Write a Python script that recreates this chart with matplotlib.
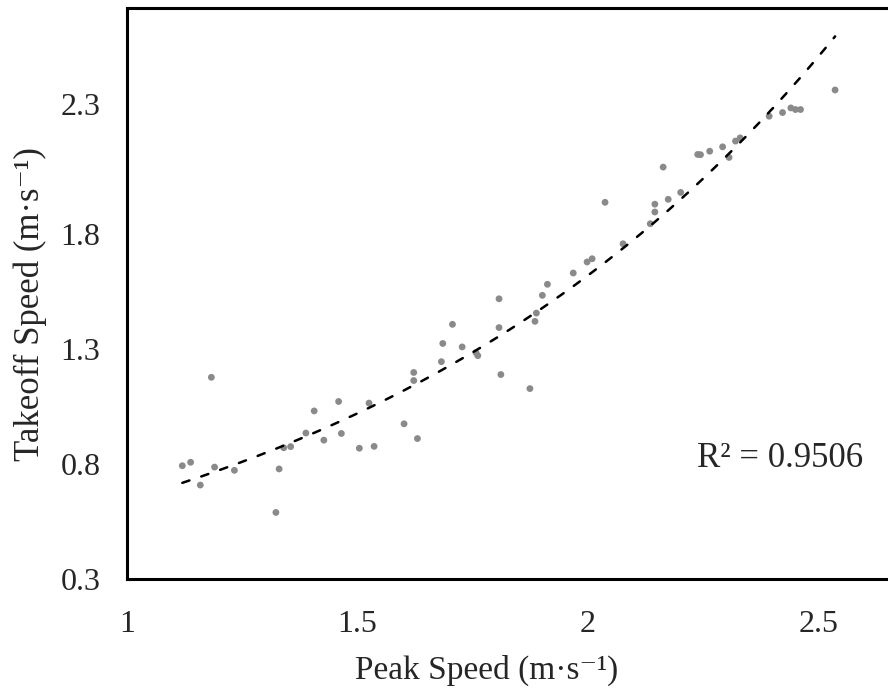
import numpy as np
import matplotlib
matplotlib.use("Agg")
import matplotlib.pyplot as plt
from matplotlib.transforms import ScaledTranslation

# Data
peak_speed = [1.120, 1.138, 1.159, 1.183, 1.190, 1.233, 1.323, 1.330, 1.340, 1.355,
              1.388, 1.406, 1.427, 1.459, 1.465, 1.504, 1.525, 1.536, 1.601, 1.622,
              1.622, 1.630, 1.682, 1.685, 1.706, 1.727, 1.757, 1.761, 1.807, 1.807,
              1.811, 1.874, 1.885, 1.888, 1.901, 1.912, 1.968, 1.998, 2.009, 2.037,
              2.076, 2.135, 2.145, 2.145, 2.163, 2.174, 2.201, 2.238, 2.244, 2.264,
              2.292, 2.306, 2.320, 2.330, 2.393, 2.422, 2.440, 2.450, 2.461, 2.536]
takeoff_speed = [0.792, 0.807, 0.708, 1.176, 0.786, 0.772, 0.589, 0.778, 0.870, 0.875,
                 0.934, 1.030, 0.903, 1.071, 0.932, 0.868, 1.064, 0.876, 0.974, 1.197,
                 1.162, 0.910, 1.244, 1.323, 1.406, 1.308, 1.283, 1.270, 1.517, 1.392,
                 1.188, 1.127, 1.419, 1.455, 1.532, 1.580, 1.629, 1.677, 1.691, 1.936,
                 1.756, 1.843, 1.894, 1.928, 2.089, 1.949, 1.979, 2.144, 2.143, 2.158,
                 2.177, 2.131, 2.202, 2.216, 2.310, 2.326, 2.346, 2.339, 2.339, 2.424]
x_ticks = [1, 1.5, 2, 2.5]
x_tick_labels = ["1", "1.5", "2", "2.5"]
y_ticks = [0.3, 0.8, 1.3, 1.8, 2.3]
y_tick_labels = ["0.3", "0.8", "1.3", "1.8", "2.3"]
x_title = "Peak Speed (m·s⁻¹)"
y_title = "Takeoff Speed (m·s⁻¹)"
r2_text = "R² = 0.9506"

plt.rcParams['font.family'] = ['Liberation Serif', 'DejaVu Serif']

fig = plt.figure(figsize=(8.88, 6.91), dpi=100)
W, H = 888, 691
left_px, right_px, bottom_px, top_px = 127, 1049, 579, 8
ax = fig.add_axes([left_px / W, (H - bottom_px) / H,
                   (right_px - left_px) / W, (bottom_px - top_px) / H])

x = np.array(peak_speed)
y = np.array(takeoff_speed)
ax.scatter(x, y, s=24, color='#8a8a8a', edgecolors='none', zorder=3)

# exponential trendline (least squares on log scale, as spreadsheet trendlines do)
b, ln_a = np.polyfit(x, np.log(y), 1)
xf = np.linspace(x.min(), x.max(), 200)
ax.plot(xf, np.exp(ln_a) * np.exp(b * xf), color='black', lw=1.8,
        linestyle=(0, (3, 5)), dash_capstyle='round', zorder=4)

ax.set_xlim(1, 3)
ax.set_ylim(0.3, 2.78)
ax.set_xticks(x_ticks)
ax.set_xticklabels(x_tick_labels)
ax.set_yticks(y_ticks)
ax.set_yticklabels(y_tick_labels)
ax.tick_params(axis='both', length=0, labelsize=23, colors='#262626')
ax.tick_params(axis='x', pad=22)
ax.tick_params(axis='y', pad=19)
for sp in ax.spines.values():
    sp.set_linewidth(2.2)
    sp.set_color('black')

ax.set_xlabel(x_title, fontsize=24, color='#262626')
ax.set_ylabel(y_title, fontsize=25, color='#262626')
ax.xaxis.set_label_coords((487 - left_px) / (right_px - left_px),
                          -(670 - bottom_px) / (bottom_px - top_px), transform=ax.transAxes)
ax.yaxis.set_label_coords(-(127 - 30) / (right_px - left_px),
                          (bottom_px - 304) / (bottom_px - top_px), transform=ax.transAxes)
ax.xaxis.label.set_va('center')
ax.yaxis.label.set_va('center')

ax.text(2.236, 0.825, r2_text, fontsize=25, color='#262626', ha='left', va='center')

# top tick label sits slightly higher in the reference
lbl = ax.get_yticklabels()[-1]
lbl.set_transform(lbl.get_transform() + ScaledTranslation(0, 0.15, fig.dpi_scale_trans))

fig.savefig("out.png", dpi=100)
